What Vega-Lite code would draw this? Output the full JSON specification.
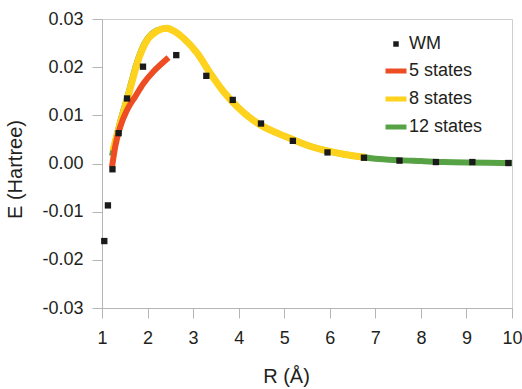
{
  "$schema": "https://vega.github.io/schema/vega-lite/v6.json",
  "width": 410,
  "height": 289,
  "autosize": "none",
  "padding": {"left": 102, "top": 19, "right": 10, "bottom": 81},
  "background": "white",
  "config": {
    "font": "Liberation Sans",
    "view": {"stroke": "#cfcfcf", "strokeWidth": 1},
    "axis": {
      "domainColor": "#b5b5b5",
      "tickColor": "#b5b5b5",
      "tickSize": 10,
      "grid": false,
      "labelFont": "Liberation Sans",
      "labelFontSize": 18,
      "labelColor": "#231f20",
      "titleFont": "Liberation Sans",
      "titleFontSize": 20,
      "titleFontWeight": "normal",
      "titleColor": "#231f20"
    },
    "legend": {
      "labelFont": "Liberation Sans",
      "labelFontSize": 18,
      "labelColor": "#231f20"
    }
  },
  "datasets": {
    "wm": [
      {"series": "WM", "R": 1.05, "E": -0.0161},
      {"series": "WM", "R": 1.13, "E": -0.0087},
      {"series": "WM", "R": 1.23, "E": -0.0012},
      {"series": "WM", "R": 1.365, "E": 0.0063},
      {"series": "WM", "R": 1.55, "E": 0.0135},
      {"series": "WM", "R": 1.9, "E": 0.0201},
      {"series": "WM", "R": 2.63, "E": 0.0225},
      {"series": "WM", "R": 3.29, "E": 0.0182},
      {"series": "WM", "R": 3.87, "E": 0.0132},
      {"series": "WM", "R": 4.49, "E": 0.0083},
      {"series": "WM", "R": 5.19, "E": 0.0047},
      {"series": "WM", "R": 5.95, "E": 0.0023},
      {"series": "WM", "R": 6.75, "E": 0.0012},
      {"series": "WM", "R": 7.53, "E": 0.0006},
      {"series": "WM", "R": 8.33, "E": 0.0003},
      {"series": "WM", "R": 9.13, "E": 0.0003},
      {"series": "WM", "R": 9.92, "E": 0.0001}
    ],
    "s5": [
      {"series": "5 states", "R": 1.22, "E": -0.0007},
      {"series": "5 states", "R": 1.29, "E": 0.0035},
      {"series": "5 states", "R": 1.4, "E": 0.0076},
      {"series": "5 states", "R": 1.55, "E": 0.0111},
      {"series": "5 states", "R": 1.73, "E": 0.0139},
      {"series": "5 states", "R": 1.91, "E": 0.0166},
      {"series": "5 states", "R": 2.13, "E": 0.0191},
      {"series": "5 states", "R": 2.32, "E": 0.0208},
      {"series": "5 states", "R": 2.46, "E": 0.022}
    ],
    "s8": [
      {"series": "8 states", "R": 1.24, "E": 0.0026},
      {"series": "8 states", "R": 1.33, "E": 0.0059},
      {"series": "8 states", "R": 1.42, "E": 0.009},
      {"series": "8 states", "R": 1.56, "E": 0.0135},
      {"series": "8 states", "R": 1.66, "E": 0.017},
      {"series": "8 states", "R": 1.75, "E": 0.0201},
      {"series": "8 states", "R": 1.88, "E": 0.0236},
      {"series": "8 states", "R": 2.02, "E": 0.026},
      {"series": "8 states", "R": 2.21, "E": 0.0275},
      {"series": "8 states", "R": 2.42, "E": 0.0281},
      {"series": "8 states", "R": 2.6, "E": 0.0274},
      {"series": "8 states", "R": 2.79, "E": 0.026},
      {"series": "8 states", "R": 3.09, "E": 0.0229},
      {"series": "8 states", "R": 3.38, "E": 0.0187},
      {"series": "8 states", "R": 3.67, "E": 0.0149},
      {"series": "8 states", "R": 3.97, "E": 0.0118},
      {"series": "8 states", "R": 4.26, "E": 0.0094},
      {"series": "8 states", "R": 4.55, "E": 0.0076},
      {"series": "8 states", "R": 4.85, "E": 0.0063},
      {"series": "8 states", "R": 5.21, "E": 0.0049},
      {"series": "8 states", "R": 5.5, "E": 0.0038},
      {"series": "8 states", "R": 6.0, "E": 0.0025},
      {"series": "8 states", "R": 6.5, "E": 0.0016},
      {"series": "8 states", "R": 6.78, "E": 0.0013}
    ],
    "s12": [
      {"series": "12 states", "R": 1.22, "E": 0.0016},
      {"series": "12 states", "R": 1.32, "E": 0.0058},
      {"series": "12 states", "R": 1.41, "E": 0.0091},
      {"series": "12 states", "R": 1.55, "E": 0.0136},
      {"series": "12 states", "R": 1.65, "E": 0.0171},
      {"series": "12 states", "R": 1.74, "E": 0.0202},
      {"series": "12 states", "R": 1.87, "E": 0.0237},
      {"series": "12 states", "R": 2.01, "E": 0.0261},
      {"series": "12 states", "R": 2.2, "E": 0.0276},
      {"series": "12 states", "R": 2.42, "E": 0.0281},
      {"series": "12 states", "R": 2.6, "E": 0.0274},
      {"series": "12 states", "R": 2.79, "E": 0.026},
      {"series": "12 states", "R": 3.09, "E": 0.0229},
      {"series": "12 states", "R": 3.38, "E": 0.0187},
      {"series": "12 states", "R": 3.67, "E": 0.0149},
      {"series": "12 states", "R": 3.97, "E": 0.0118},
      {"series": "12 states", "R": 4.26, "E": 0.0094},
      {"series": "12 states", "R": 4.55, "E": 0.0076},
      {"series": "12 states", "R": 4.85, "E": 0.0063},
      {"series": "12 states", "R": 5.21, "E": 0.0049},
      {"series": "12 states", "R": 5.5, "E": 0.0038},
      {"series": "12 states", "R": 6.0, "E": 0.0025},
      {"series": "12 states", "R": 6.5, "E": 0.0016},
      {"series": "12 states", "R": 7.0, "E": 0.001},
      {"series": "12 states", "R": 7.5, "E": 0.0007},
      {"series": "12 states", "R": 8.0, "E": 0.0005},
      {"series": "12 states", "R": 8.5, "E": 0.0003},
      {"series": "12 states", "R": 9.0, "E": 0.0002},
      {"series": "12 states", "R": 9.5, "E": 0.00015},
      {"series": "12 states", "R": 10.0, "E": 0.0001}
    ]
  },
  "encoding": {
    "x": {
      "field": "R",
      "type": "quantitative",
      "scale": {"domain": [1, 10], "nice": false, "zero": false},
      "axis": {
        "title": "R (Å)",
        "values": [1, 2, 3, 4, 5, 6, 7, 8, 9, 10],
        "format": "d",
        "labelPadding": 11,
        "labelFlush": false,
        "titleX": 184,
        "titleY": 58,
        "titleBaseline": "top"
      }
    },
    "y": {
      "field": "E",
      "type": "quantitative",
      "scale": {"domain": [-0.03, 0.03], "nice": false, "zero": false},
      "axis": {
        "title": "E (Hartree)",
        "values": [-0.03, -0.02, -0.01, 0, 0.01, 0.02, 0.03],
        "labelExpr": "replace(format(datum.value, '.2f'), '−', '-')",
        "labelPadding": 9,
        "labelFlush": false,
        "titleX": -77,
        "titleY": 150
      }
    },
    "color": {
      "field": "series",
      "type": "nominal",
      "scale": {
        "domain": ["WM", "5 states", "8 states", "12 states"],
        "range": ["#1a1a1a", "#EE4D23", "#FFD21E", "#58A246"]
      },
      "legend": {
        "title": null,
        "orient": "none",
        "legendX": 285,
        "legendY": 16,
        "symbolSize": 441,
        "symbolStrokeWidth": 5,
        "rowPadding": 8,
        "labelOffset": 4,
        "padding": 0,
        "encode": {
          "symbols": {
            "update": {
              "shape": {"signal": "datum.value === 'WM' ? 'square' : 'stroke'"},
              "size": {"signal": "datum.value === 'WM' ? 30 : 441"},
              "strokeWidth": {"signal": "datum.value === 'WM' ? 0 : 5"},
              "fill": {"signal": "datum.value === 'WM' ? '#1a1a1a' : 'transparent'"}
            }
          }
        }
      }
    }
  },
  "layer": [
    {"data": {"name": "s12"}, "mark": {"type": "line", "strokeWidth": 6, "interpolate": "monotone"}},
    {"data": {"name": "s8"}, "mark": {"type": "line", "strokeWidth": 7, "interpolate": "monotone"}},
    {"data": {"name": "s5"}, "mark": {"type": "line", "strokeWidth": 6, "interpolate": "monotone"}},
    {"data": {"name": "wm"}, "mark": {"type": "square", "size": 40, "opacity": 1}}
  ]
}
